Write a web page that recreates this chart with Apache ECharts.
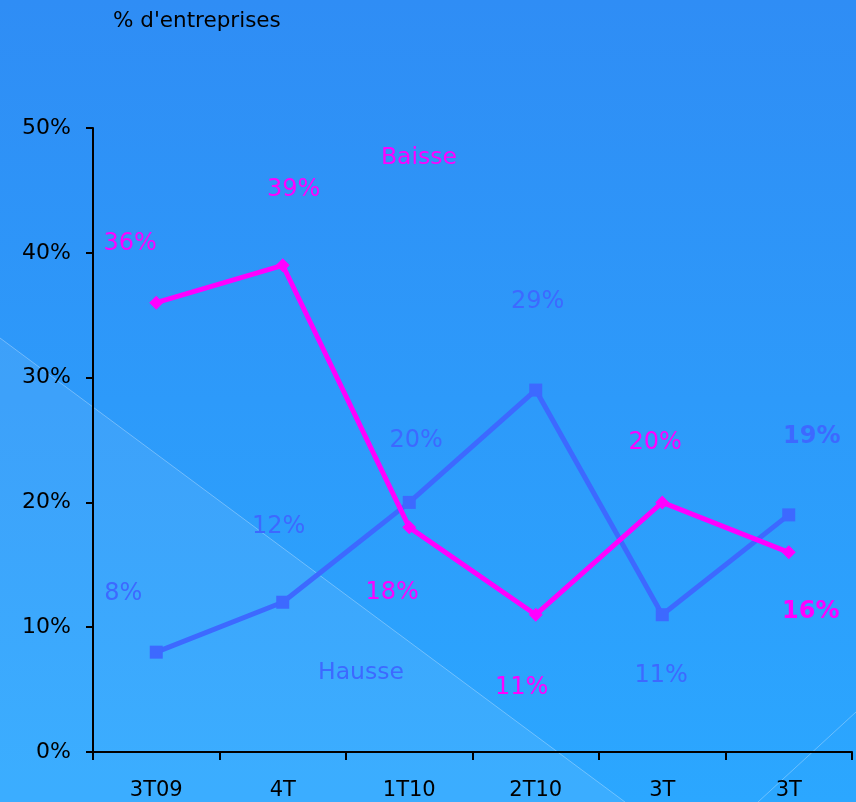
<!DOCTYPE html>
<html>
<head>
<meta charset="utf-8">
<script src="https://cdn.jsdelivr.net/npm/echarts@6/dist/echarts.min.js"></script>
<style>
html,body{margin:0;padding:0;}
#c{width:856px;height:802px;}
</style>
</head>
<body>
<div id="c"></div>
<script>
const categories = ['3T09', '4T', '1T10', '2T10', '3T', '3T'];
const baisse = [36, 39, 18, 11, 20, 16];
const hausse = [8, 12, 20, 29, 11, 19];
const yTicks = [0, 10, 20, 30, 40, 50];

const FONT = 'DejaVu Sans';
const MAGENTA = '#FF00FF';
const BLUE = '#3D69FF';

// label offsets (layout only)
const baisseOff = [[-26, -59], [11, -76], [-17, 65], [-14, 73], [-7, -60], [22, 59]];
const hausseOff = [[-33, -58], [-4, -75], [7, -62], [2, -88], [-1, 61], [23, -78]];

function items(vals, offs, color) {
  return vals.map((v, i) => ({
    value: v,
    label: {
      show: true,
      position: 'inside',
      offset: offs[i],
      formatter: '{c}%',
      color: color,
      fontFamily: FONT,
      fontSize: 24,
      fontWeight: i === vals.length - 1 ? 'bold' : 'normal'
    }
  }));
}

const chart = echarts.init(document.getElementById('c'), null, {renderer: 'canvas'});
chart.setOption({
  animation: false,
  backgroundColor: {
    type: 'linear', x: 0, y: 0, x2: 0, y2: 1,
    colorStops: [{offset: 0, color: '#2F8DF5'}, {offset: 1, color: '#2BA7FF'}]
  },
  graphic: [
    {type: 'polygon', z: 0, silent: true,
     shape: {points: [[0, 338], [625, 802], [0, 802]]},
     style: {fill: 'rgba(255,255,255,0.08)'}},
    {type: 'line', z: 0, silent: true,
     shape: {x1: 0, y1: 338, x2: 625, y2: 802},
     style: {stroke: 'rgba(255,255,255,0.3)', lineWidth: 1}},
    {type: 'line', z: 0, silent: true,
     shape: {x1: 856, y1: 712, x2: 758, y2: 802},
     style: {stroke: 'rgba(255,255,255,0.3)', lineWidth: 1}},
    {type: 'text', left: 113, top: 10, z: 10,
     style: {text: "% d'entreprises", fill: '#000', font: '21.5px "DejaVu Sans"'}},
    {type: 'text', left: 381, top: 146, z: 10,
     style: {text: 'Baisse', fill: MAGENTA, font: '23.5px "DejaVu Sans"'}},
    {type: 'text', left: 318, top: 661, z: 10,
     style: {text: 'Hausse', fill: BLUE, font: '23.5px "DejaVu Sans"'}}
  ],
  grid: {left: 93, right: 4, top: 128, bottom: 50, containLabel: false},
  xAxis: {
    type: 'category',
    data: categories,
    boundaryGap: true,
    axisLine: {lineStyle: {color: '#000', width: 2}},
    axisTick: {show: true, length: 8, inside: false, lineStyle: {color: '#000', width: 2}},
    axisLabel: {color: '#000', fontFamily: FONT, fontSize: 21, margin: 28}
  },
  yAxis: {
    type: 'value',
    min: yTicks[0], max: yTicks[yTicks.length - 1], interval: 10,
    axisLine: {show: true, lineStyle: {color: '#000', width: 2}},
    axisTick: {show: true, length: 7, lineStyle: {color: '#000', width: 2}},
    splitLine: {show: false},
    axisLabel: {color: '#000', fontFamily: FONT, fontSize: 22, margin: 22, formatter: '{value}%',
                padding: [4, 0, 0, 0]}
  },
  series: [
    {
      name: 'Hausse', type: 'line',
      data: items(hausse, hausseOff, BLUE),
      symbol: 'rect', symbolSize: 13,
      lineStyle: {color: BLUE, width: 5},
      itemStyle: {color: BLUE},
      z: 3
    },
    {
      name: 'Baisse', type: 'line',
      data: items(baisse, baisseOff, MAGENTA),
      symbol: 'diamond', symbolSize: 14,
      lineStyle: {color: MAGENTA, width: 5},
      itemStyle: {color: MAGENTA},
      z: 4
    }
  ]
});
</script>
</body>
</html>
